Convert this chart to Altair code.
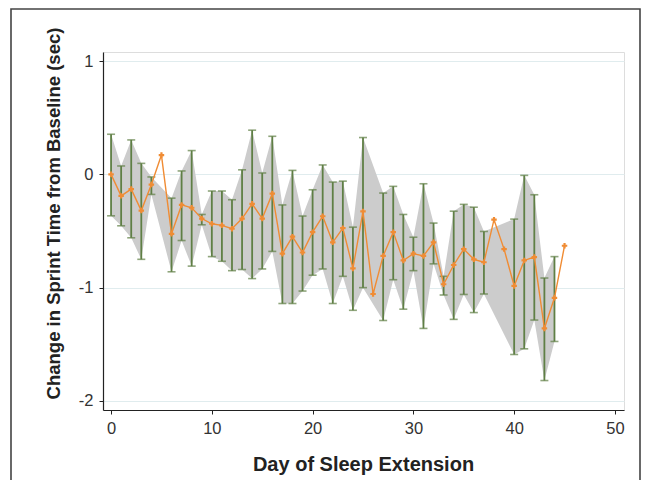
import altair as alt
import pandas as pd

days = list(range(46))
mean = [0.0, -0.19, -0.13, -0.32, -0.09, 0.17, -0.525, -0.27, -0.295, -0.39,
        -0.436, -0.45, -0.48, -0.39, -0.26, -0.39, -0.17, -0.70, -0.55, -0.69,
        -0.51, -0.37, -0.60, -0.475, -0.83, -0.327, -1.056, -0.72, -0.51, -0.76,
        -0.70, -0.72, -0.60, -0.97, -0.80, -0.66, -0.75, -0.776, -0.40, -0.66,
        -0.985, -0.76, -0.73, -1.36, -1.09, -0.63]
upper = [0.354, 0.074, 0.304, 0.097, -0.023, None, -0.21, 0.03, 0.21, -0.354,
         -0.147, -0.147, -0.224, 0.04, 0.39, 0.012, 0.336, -0.27, 0.035, -0.368,
         -0.136, 0.083, -0.068, -0.06, -0.466, 0.325, None, -0.165, -0.106, -0.354,
         -0.555, -0.083, -0.43, -0.90, -0.325, -0.265, -0.29, -0.504, None, None,
         -0.395, -0.009, -0.18, -0.915, -0.726, None]
lower = [-0.366, -0.454, -0.56, -0.75, -0.177, None, -0.86, -0.584, -0.81, -0.445,
         -0.726, -0.767, -0.85, -0.84, -0.92, -0.835, -0.68, -1.14, -1.14, -1.03,
         -0.89, -0.835, -1.14, -0.90, -1.2, -1.0, None, -1.29, -0.93, -1.19,
         -0.85, -1.36, -0.79, -1.065, -1.28, -1.06, -1.22, -1.056, None, None,
         -1.59, -1.54, -1.286, -1.82, -1.475, None]

x_ticks = [0, 10, 20, 30, 40, 50]
y_ticks = [1, 0, -1, -2]

df = pd.DataFrame({"day": days, "mean": mean, "upper": upper, "lower": lower})
bars = df.dropna(subset=["upper", "lower"]).reset_index(drop=True)

LABEL_FONT = "Liberation Sans, Arial, sans-serif"
TITLE_FONT = "Liberation Sans, Arial, sans-serif"
LABEL_EXPR = "datum.value < 0 ? '-' + abs(datum.value) : '' + datum.value"

xs = alt.Scale(domain=[-0.8, 50.9], nice=False, zero=False)
ys = alt.Scale(domain=[-2.08, 1.08], nice=False, zero=False)

x_axis = alt.Axis(values=x_ticks, title="Day of Sleep Extension", grid=False,
                  labelExpr=LABEL_EXPR,
                  domainColor="#222", domainWidth=1.2, tickColor="#222", tickSize=4,
                  labelFont=LABEL_FONT, labelFontSize=16.5, labelColor="#333",
                  labelPadding=6, titleFont=TITLE_FONT, titleFontSize=20,
                  titleFontWeight="bold", titleColor="#222",
                  titleX=260, titleY=54, titleBaseline="middle", titleAlign="center")
y_axis = alt.Axis(values=y_ticks, title="Change in Sprint Time from Baseline (sec)",
                  labelExpr=LABEL_EXPR,
                  grid=True, gridColor="#e0ecee", gridWidth=1,
                  domainColor="#222", domainWidth=1.2, tickColor="#222", tickSize=4,
                  labelFont=LABEL_FONT, labelFontSize=16.5, labelColor="#333",
                  labelPadding=6, titleFont=TITLE_FONT, titleFontSize=18.5,
                  titleFontWeight="bold", titleColor="#222",
                  titleX=-50, titleY=161, titleAngle=-90, titleBaseline="middle",
                  titleAlign="center")

base_b = alt.Chart(bars)

band = base_b.mark_area(color="#cccccc", opacity=1).encode(
    x=alt.X("day:Q", scale=xs, axis=x_axis),
    y=alt.Y("upper:Q", scale=ys, axis=y_axis),
    y2="lower:Q",
)

rules = base_b.mark_rule(color="#5f7f45", strokeWidth=1.8).encode(
    x=alt.X("day:Q", scale=xs), y=alt.Y("upper:Q", scale=ys), y2="lower:Q")
cap_hi = base_b.mark_tick(color="#5f7f45", orient="horizontal", size=8, thickness=1.6).encode(
    x=alt.X("day:Q", scale=xs), y=alt.Y("upper:Q", scale=ys))
cap_lo = base_b.mark_tick(color="#5f7f45", orient="horizontal", size=8, thickness=1.6).encode(
    x=alt.X("day:Q", scale=xs), y=alt.Y("lower:Q", scale=ys))

line = alt.Chart(df).mark_line(color="#f08c34", strokeWidth=1.4).encode(
    x=alt.X("day:Q", scale=xs), y=alt.Y("mean:Q", scale=ys))
pts = alt.Chart(df).mark_point(shape="cross", filled=True, size=30, color="#f08c34",
                               opacity=1).encode(
    x=alt.X("day:Q", scale=xs), y=alt.Y("mean:Q", scale=ys))

frame = alt.Chart(pd.DataFrame({"f": [0]})).mark_rect(
    filled=False, stroke="#444", strokeWidth=1.6).encode(
    x=alt.value(-92), x2=alt.value(537), y=alt.value(-43), y2=alt.value(480))

chart = alt.layer(band, rules, cap_hi, cap_lo, line, pts, frame).properties(
    width=521, height=358,
    autosize=alt.AutoSizeParams(type="none"),
    padding={"left": 95, "top": 44, "right": 18, "bottom": 70},
).configure_view(strokeWidth=0).configure(background="white")

chart.save("out.html", embed_options={"renderer": "svg", "actions": False})
